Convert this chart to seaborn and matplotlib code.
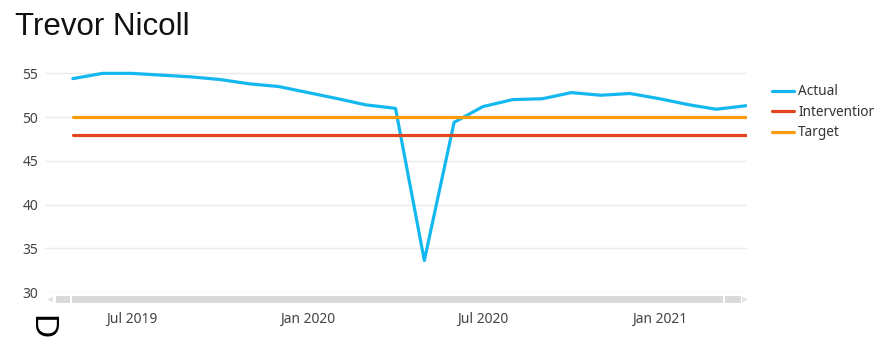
import matplotlib
matplotlib.use("Agg")
import matplotlib.pyplot as plt
import matplotlib.dates as mdates
from matplotlib.patches import Rectangle, Polygon
from matplotlib.lines import Line2D
import seaborn as sns
import pandas as pd

# ---- data ----
months = ["2019-05", "2019-06", "2019-07", "2019-08", "2019-09", "2019-10",
          "2019-11", "2019-12", "2020-01", "2020-02", "2020-03", "2020-04",
          "2020-05", "2020-06", "2020-07", "2020-08", "2020-09", "2020-10",
          "2020-11", "2020-12", "2021-01", "2021-02", "2021-03", "2021-04"]
actual = [54.4, 55.0, 55.0, 54.8, 54.6, 54.3, 53.8, 53.5, 52.8, 52.1, 51.4, 51.0,
          33.6, 49.4, 51.2, 52.0, 52.1, 52.8, 52.5, 52.7, 52.1, 51.4, 50.9, 51.3]
intervention = [48] * len(months)
target = [50] * len(months)
series_names = ["Actual", "Intervention", "Target"]
colors = ["#14B8F0", "#E2461F", "#F99B0C"]
yticks = [30, 35, 40, 45, 50, 55]
xtick_dates = ["2019-07-01", "2020-01-01", "2020-07-01", "2021-01-01"]
title = "Trevor Nicoll"

dates = pd.to_datetime(months)
df = pd.concat([
    pd.DataFrame({"Month": dates, "Value": actual, "Series": series_names[0]}),
    pd.DataFrame({"Month": dates, "Value": intervention, "Series": series_names[1]}),
    pd.DataFrame({"Month": dates, "Value": target, "Series": series_names[2]}),
])

W, H = 874, 338
sns.set_style("white")
plt.rcParams["font.family"] = ["Noto Sans", "DejaVu Sans"]

fig = plt.figure(figsize=(W / 100, H / 100), dpi=100)

def px(x0, y0, x1, y1):
    return [x0 / W, 1 - y1 / H, (x1 - x0) / W, (y1 - y0) / H]

ax = fig.add_axes(px(45, 62, 747, 292))
sns.lineplot(data=df, x="Month", y="Value", hue="Series", hue_order=series_names,
             palette=colors, linewidth=2.3, ax=ax, legend=False)

ax.set_ylim(30, 56.3)
ax.set_xlim(pd.Timestamp("2019-04-02"), pd.Timestamp("2021-04-02"))
ax.set_yticks(yticks)
ax.set_xticks(pd.to_datetime(xtick_dates))
ax.xaxis.set_major_formatter(mdates.DateFormatter("%b %Y"))
ax.grid(axis="y", color="#EAEAEA", linewidth=1)
ax.grid(axis="x", visible=False)
ax.set_axisbelow(True)
for s in ax.spines.values():
    s.set_visible(False)
ax.set_xlabel("")
ax.set_ylabel("")
ax.tick_params(axis="y", length=0, pad=5, labelsize=10, labelcolor="#444444")
ax.tick_params(axis="x", length=0, pad=14, labelsize=10, labelcolor="#444444")

# legend
handles = [Line2D([], [], color=c, linewidth=2.3) for c in colors]
fig.legend(handles, series_names, loc="upper left",
           bbox_to_anchor=(767 / W, 1 - 79 / H), frameon=False,
           fontsize=9.8, handlelength=1.6, handletextpad=0.3, labelspacing=0.4,
           labelcolor="#333333", borderaxespad=0)

# title
fig.text(15 / W, 1 - 35 / H, title, fontsize=22.5, family=["Liberation Sans", "DejaVu Sans"],
         color="#111111", va="baseline", ha="left")

# scrollbar decoration
sb_col = "#DADADA"
for (x0, x1) in [(56, 70), (72, 723), (725, 741)]:
    fig.add_artist(Rectangle((x0 / W, 1 - 303 / H), (x1 - x0) / W, 7 / H,
                             transform=fig.transFigure, color=sb_col, lw=0))
fig.add_artist(Polygon([(47 / W, 1 - 299.5 / H), (53 / W, 1 - 296.5 / H), (53 / W, 1 - 302.5 / H)],
                       closed=True, transform=fig.transFigure, color="#E4E4E4", lw=0))
fig.add_artist(Polygon([(748 / W, 1 - 299.5 / H), (742 / W, 1 - 296.5 / H), (742 / W, 1 - 302.5 / H)],
                       closed=True, transform=fig.transFigure, color="#E4E4E4", lw=0))

# glyph at bottom-left (rotated letter)
fig.text(41 / W, 1 - 315 / H, "D", fontsize=24, family=["Liberation Sans", "DejaVu Sans"],
         color="black", ha="center", va="top", rotation=-90)

fig.savefig("out.png", dpi=100)
